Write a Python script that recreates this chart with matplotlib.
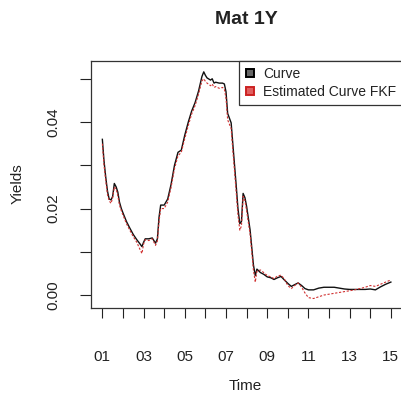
import matplotlib
matplotlib.use("Agg")
import matplotlib.pyplot as plt
from matplotlib.lines import Line2D

plt.rcParams['font.family'] = ['Liberation Sans', 'DejaVu Sans']

# Observed 1-year maturity yields and Kalman-filter estimates (decimal years)
time = [
    2001.00, 2001.08, 2001.17, 2001.25, 2001.33, 2001.42, 2001.50, 2001.58,
    2001.67, 2001.75, 2001.83, 2001.92, 2002.00, 2002.17, 2002.33, 2002.50,
    2002.67, 2002.83, 2002.92, 2003.00, 2003.08, 2003.25, 2003.42, 2003.58,
    2003.67, 2003.75, 2003.83, 2004.00, 2004.17, 2004.33, 2004.50, 2004.67,
    2004.83, 2005.00, 2005.17, 2005.33, 2005.50, 2005.67, 2005.83, 2005.92,
    2006.00, 2006.08, 2006.25, 2006.33, 2006.42, 2006.50, 2006.67, 2006.83,
    2006.92, 2007.00, 2007.08, 2007.25, 2007.33, 2007.50, 2007.58, 2007.67,
    2007.75, 2007.83, 2007.92, 2008.00, 2008.17, 2008.25, 2008.33, 2008.42,
    2008.50, 2008.67, 2008.83, 2009.00, 2009.17, 2009.33, 2009.50, 2009.67,
    2009.83, 2010.00, 2010.17, 2010.33, 2010.50, 2010.67, 2010.83, 2011.00,
    2011.25, 2011.50, 2011.75, 2012.00, 2012.25, 2012.50, 2012.75, 2013.00,
    2013.25, 2013.50, 2013.75, 2014.00, 2014.25, 2014.50, 2014.75, 2015.00,
]

curve = [
    0.0360, 0.0310, 0.0270, 0.0240, 0.0222, 0.0220, 0.0228, 0.0258,
    0.0250, 0.0238, 0.0215, 0.0200, 0.0190, 0.0170, 0.0155, 0.0140,
    0.0128, 0.0118, 0.0112, 0.0122, 0.0130, 0.0130, 0.0132, 0.0120,
    0.0130, 0.0180, 0.0208, 0.0208, 0.0222, 0.0255, 0.0300, 0.0330,
    0.0335, 0.0370, 0.0400, 0.0425, 0.0445, 0.0472, 0.0505, 0.0516,
    0.0508, 0.0502, 0.0497, 0.0500, 0.0490, 0.0492, 0.0490, 0.0490,
    0.0488, 0.0470, 0.0420, 0.0398, 0.0350, 0.0250, 0.0200, 0.0165,
    0.0170, 0.0235, 0.0225, 0.0205, 0.0150, 0.0110, 0.0070, 0.0045,
    0.0060, 0.0052, 0.0048, 0.0042, 0.0040, 0.0036, 0.0040, 0.0043,
    0.0035, 0.0027, 0.0020, 0.0024, 0.0028, 0.0022, 0.0015, 0.0012,
    0.0012, 0.0016, 0.0018, 0.0018, 0.0018, 0.0016, 0.0014, 0.0013,
    0.0013, 0.0013, 0.0013, 0.0014, 0.0012, 0.0019, 0.0025, 0.0030,
]

estimated_fkf = [
    0.0350, 0.0300, 0.0262, 0.0232, 0.0218, 0.0212, 0.0225, 0.0250,
    0.0245, 0.0230, 0.0208, 0.0195, 0.0185, 0.0165, 0.0150, 0.0135,
    0.0122, 0.0105, 0.0096, 0.0118, 0.0128, 0.0126, 0.0130, 0.0115,
    0.0125, 0.0170, 0.0200, 0.0200, 0.0215, 0.0248, 0.0292, 0.0322,
    0.0330, 0.0362, 0.0392, 0.0418, 0.0438, 0.0465, 0.0495, 0.0500,
    0.0494, 0.0490, 0.0484, 0.0488, 0.0480, 0.0482, 0.0478, 0.0480,
    0.0476, 0.0455, 0.0405, 0.0385, 0.0335, 0.0235, 0.0185, 0.0150,
    0.0160, 0.0228, 0.0218, 0.0195, 0.0140, 0.0100, 0.0058, 0.0030,
    0.0055, 0.0058, 0.0052, 0.0045, 0.0042, 0.0038, 0.0044, 0.0046,
    0.0037, 0.0022, 0.0015, 0.0022, 0.0028, 0.0018, 0.0005, -0.0006,
    -0.0008, -0.0004, 0.0000, 0.0002, 0.0004, 0.0006, 0.0008, 0.0010,
    0.0012, 0.0015, 0.0018, 0.0022, 0.0020, 0.0025, 0.0030, 0.0035,
]

year_ticks = list(range(2001, 2016))
year_labels = [f"{y % 100:02d}" if y % 2 == 1 else "" for y in year_ticks]
yield_ticks = [0.00, 0.01, 0.02, 0.03, 0.04, 0.05]
yield_labels = ["0.00", "", "0.02", "", "0.04", ""]

text_color = "#222222"

fig = plt.figure(figsize=(4.01, 3.99), dpi=100)
ax = fig.add_axes([0.227, 0.228, 0.776, 0.619])

ax.plot(time, curve, color="#111111", lw=1.0)
ax.plot(time, estimated_fkf, color="#d03030", lw=0.8, ls=(0, (2, 1.5)))

ax.set_xlim(2000.45, 2015.55)
ax.set_ylim(-0.0030, 0.0541)

ax.set_xticks(year_ticks)
ax.set_xticklabels(year_labels)
ax.set_yticks(yield_ticks)
ax.set_yticklabels(yield_labels, rotation=90, va="center")

ax.tick_params(axis="x", length=7, width=0.8, pad=23, labelsize=11,
               colors=text_color)
ax.tick_params(axis="y", length=8, width=0.8, pad=14, labelsize=11,
               colors=text_color)
for side in ("left", "bottom", "top", "right"):
    ax.spines[side].set_linewidth(0.9)
    ax.spines[side].set_color("#333333")

handles = [
    Line2D([], [], ls="none", marker="s", markersize=6,
           markerfacecolor="#666666", markeredgecolor="black",
           markeredgewidth=1.4, label="Curve"),
    Line2D([], [], ls="none", marker="s", markersize=6,
           markerfacecolor="#e06060", markeredgecolor="#cc2222",
           markeredgewidth=1.4, label="Estimated Curve FKF"),
]
leg = ax.legend(handles=handles, loc="upper right", bbox_to_anchor=(1.0, 1.0),
                borderaxespad=0, fontsize=10, fancybox=False, framealpha=1,
                edgecolor="#333333", handlelength=0.8, handletextpad=0.5,
                labelspacing=0.25, borderpad=0.45)
leg.get_frame().set_linewidth(0.9)
for t in leg.get_texts():
    t.set_color(text_color)

fig.text(246 / 401, 1 - 20 / 399, "Mat 1Y", ha="center", va="center",
         fontsize=14, fontweight="bold", color=text_color)
fig.text(245 / 401, 1 - 386 / 399, "Time", ha="center", va="center",
         fontsize=11, color=text_color)
fig.text(18 / 401, 1 - 184 / 399, "Yields", ha="center", va="center",
         rotation=90, fontsize=11, color=text_color)

fig.savefig("out.png", dpi=100)
